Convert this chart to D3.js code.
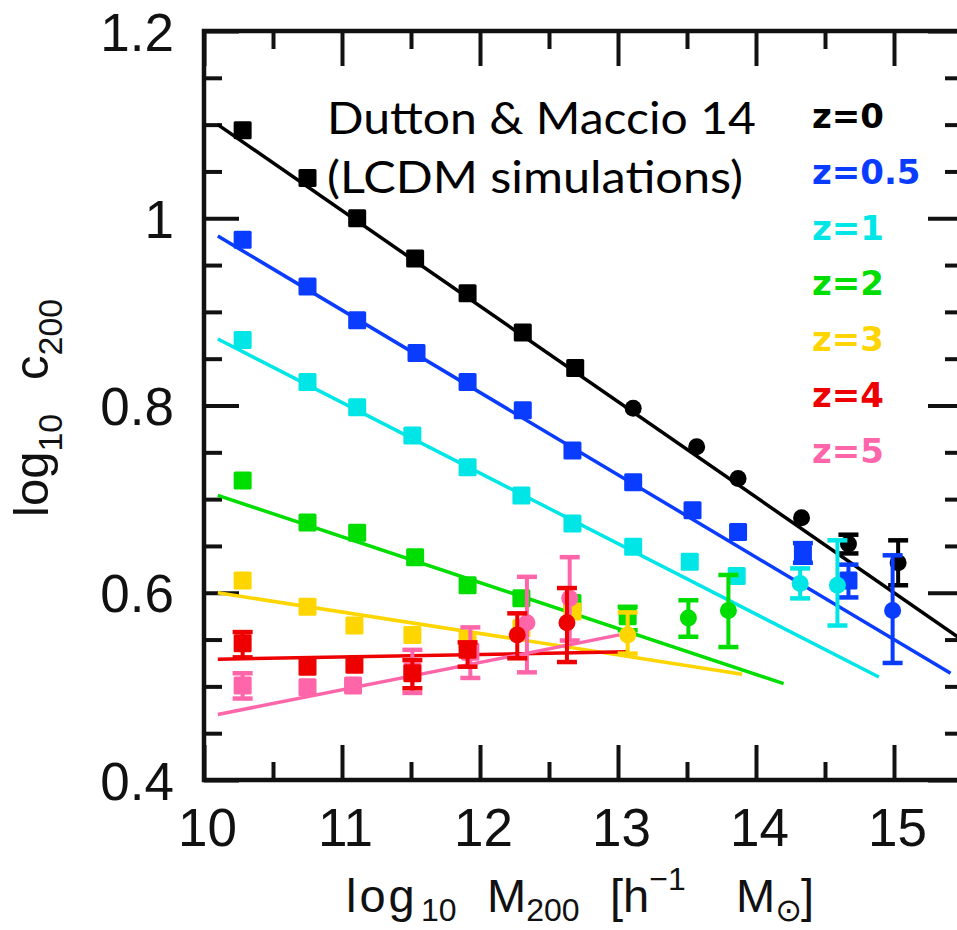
<!DOCTYPE html>
<html>
<head>
<meta charset="utf-8">
<script src="https://cdn.jsdelivr.net/npm/d3@7"></script>
<style>
  html, body { margin: 0; padding: 0; background: #fff; }
  svg { display: block; }
</style>
</head>
<body>
<svg id="chart" width="957" height="930"></svg>
<script>
// ---------------- DATA ----------------
const seriesNames = ["z=0", "z=0.5", "z=1", "z=2", "z=3", "z=4", "z=5"];
const seriesColors = ["#000000", "#0a3cff", "#00e6e6", "#00dd00", "#ffd500", "#ee0000", "#ff66aa"];

// z = 0
const z0_x  = [10.28, 10.75, 11.11, 11.53, 11.91, 12.31, 12.69, 13.11, 13.57, 13.87, 14.33, 14.67, 15.03];
const z0_y  = [1.094, 1.043, 1.000, 0.957, 0.920, 0.878, 0.840, 0.797, 0.756, 0.722, 0.680, 0.652, 0.632];
const z0_lo = [null, null, null, null, null, null, null, null, null, null, null, 0.642, 0.608];
const z0_hi = [null, null, null, null, null, null, null, null, null, null, null, 0.662, 0.656];
const z0_shape = ["s","s","s","s","s","s","s","c","c","c","c","c","c"];

// z = 0.5
const z05_x  = [10.28, 10.75, 11.11, 11.54, 11.91, 12.31, 12.67, 13.11, 13.54, 13.87, 14.34, 14.67, 14.99];
const z05_y  = [0.977, 0.927, 0.891, 0.856, 0.825, 0.795, 0.752, 0.718, 0.688, 0.665, 0.642, 0.613, 0.581];
const z05_lo = [null, null, null, null, null, null, null, null, null, null, 0.632, 0.595, 0.525];
const z05_hi = [null, null, null, null, null, null, null, null, null, null, 0.653, 0.630, 0.640];
const z05_shape = ["s","s","s","s","s","s","s","s","s","s","s","s","c"];

// z = 1
const z1_x  = [10.28, 10.75, 11.11, 11.51, 11.91, 12.30, 12.67, 13.11, 13.52, 13.86, 14.32, 14.59];
const z1_y  = [0.870, 0.825, 0.798, 0.768, 0.734, 0.704, 0.674, 0.649, 0.633, 0.618, 0.610, 0.608];
const z1_lo = [null, null, null, null, null, null, null, null, null, null, 0.594, 0.565];
const z1_hi = [null, null, null, null, null, null, null, null, null, null, 0.626, 0.656];
const z1_shape = ["s","s","s","s","s","s","s","s","s","s","c","c"];

// z = 2
const z2_x  = [10.28, 10.75, 11.11, 11.53, 11.91, 12.30, 12.67, 13.07, 13.51, 13.80];
const z2_y  = [0.720, 0.675, 0.664, 0.638, 0.608, 0.594, 0.589, 0.575, 0.573, 0.581];
const z2_lo = [null, null, null, null, null, null, null, 0.560, 0.553, 0.542];
const z2_hi = [null, null, null, null, null, null, null, 0.585, 0.592, 0.619];
const z2_shape = ["s","s","s","s","s","s","s","s","c","c"];

// z = 3
const z3_x  = [10.28, 10.75, 11.09, 11.51, 11.91, 12.30, 12.67, 13.07];
const z3_y  = [0.613, 0.585, 0.565, 0.555, 0.549, 0.562, 0.580, 0.555];
const z3_lo = [null, null, null, null, null, null, null, 0.535];
const z3_hi = [null, null, null, null, null, null, null, 0.579];
const z3_shape = ["s","s","s","s","s","s","s","c"];

// z = 4
const z4_x  = [10.28, 10.75, 11.09, 11.51, 11.91, 12.27, 12.63];
const z4_y  = [0.546, 0.521, 0.523, 0.514, 0.539, 0.555, 0.568];
const z4_lo = [0.531, null, null, 0.498, 0.521, 0.530, 0.526];
const z4_hi = [0.558, null, null, 0.528, 0.547, 0.578, 0.605];
const z4_shape = ["s","s","s","s","s","c","c"];

// z = 5
const z5_x  = [10.28, 10.75, 11.08, 11.51, 11.93, 12.34, 12.65];
const z5_y  = [0.501, 0.499, 0.501, 0.516, 0.537, 0.568, 0.594];
const z5_lo = [0.487, null, null, 0.493, 0.509, 0.515, 0.549];
const z5_hi = [0.514, null, null, 0.539, 0.563, 0.617, 0.638];
const z5_shape = ["s","s","s","s","s","c","c"];

// fitted relations (start / end points)
const fitX0 = [10.10, 10.10, 10.10, 10.10, 10.10, 10.10, 10.10];
const fitY0 = [1.100, 0.981, 0.871, 0.704, 0.600, 0.529, 0.470];
const fitX1 = [15.50, 15.41, 14.89, 14.20, 13.90, 13.07, 13.01];
const fitY1 = [0.549, 0.514, 0.510, 0.503, 0.513, 0.537, 0.555];

// axes ticks
const xMajor = [10, 11, 12, 13, 14, 15];
const xMinor = [10.5, 11.5, 12.5, 13.5, 14.5, 15.5];
const yMajor = [0.4, 0.6, 0.8, 1.0, 1.2];
const yMinor = [0.45, 0.5, 0.55, 0.65, 0.7, 0.75, 0.85, 0.9, 0.95, 1.05, 1.1, 1.15];
const yTickLabels = ["0.4", "0.6", "0.8", "1", "1.2"];
const xTickLabels = ["10", "11", "12", "13", "14", "15"];

const noteLines = ["Dutton & Maccio 14", "(LCDM simulations)"];

// ---------------- BUILD ----------------
const series = [
  {x: z0_x, y: z0_y, lo: z0_lo, hi: z0_hi, shape: z0_shape},
  {x: z05_x, y: z05_y, lo: z05_lo, hi: z05_hi, shape: z05_shape},
  {x: z1_x, y: z1_y, lo: z1_lo, hi: z1_hi, shape: z1_shape},
  {x: z2_x, y: z2_y, lo: z2_lo, hi: z2_hi, shape: z2_shape},
  {x: z3_x, y: z3_y, lo: z3_lo, hi: z3_hi, shape: z3_shape},
  {x: z4_x, y: z4_y, lo: z4_lo, hi: z4_hi, shape: z4_shape},
  {x: z5_x, y: z5_y, lo: z5_lo, hi: z5_hi, shape: z5_shape}
].map((s, i) => ({
  name: seriesNames[i], color: seriesColors[i],
  pts: s.x.map((xv, j) => ({x: xv, y: s.y[j], lo: s.lo[j], hi: s.hi[j], shape: s.shape[j]})),
  fit: [{x: fitX0[i], y: fitY0[i]}, {x: fitX1[i], y: fitY1[i]}]
}));

const svg = d3.select("#chart");
svg.append("rect").attr("width", 957).attr("height", 930).attr("fill", "#fff");

const L = 204, R = 963, T = 31, B = 780;
const x = d3.scaleLinear().domain([10, 15.5]).range([L, R]);
const y = d3.scaleLinear().domain([0.4, 1.2]).range([B, T]);

const axisFont = "'Liberation Sans', Arial, Helvetica, sans-serif";
const tickColor = "#111";

function styleTicks(g) {
  g.select(".domain").remove();
  g.selectAll(".tick line").attr("stroke", tickColor).attr("stroke-width", 4);
}

// Major / minor ticks on all four sides (pointing inward)
svg.append("g").attr("transform", `translate(0,${B})`)
  .call(d3.axisBottom(x).tickValues(xMajor).tickSize(-35).tickFormat(""))
  .call(styleTicks);
svg.append("g").attr("transform", `translate(0,${B})`)
  .call(d3.axisBottom(x).tickValues(xMinor).tickSize(-18).tickFormat(""))
  .call(styleTicks);
svg.append("g").attr("transform", `translate(0,${T})`)
  .call(d3.axisTop(x).tickValues(xMajor).tickSize(-35).tickFormat(""))
  .call(styleTicks);
svg.append("g").attr("transform", `translate(0,${T})`)
  .call(d3.axisTop(x).tickValues(xMinor).tickSize(-18).tickFormat(""))
  .call(styleTicks);
svg.append("g").attr("transform", `translate(${L},0)`)
  .call(d3.axisLeft(y).tickValues(yMajor).tickSize(-35).tickFormat(""))
  .call(styleTicks);
svg.append("g").attr("transform", `translate(${L},0)`)
  .call(d3.axisLeft(y).tickValues(yMinor).tickSize(-18).tickFormat(""))
  .call(styleTicks);
svg.append("g").attr("transform", `translate(${R},0)`)
  .call(d3.axisRight(y).tickValues(yMajor).tickSize(-35).tickFormat(""))
  .call(styleTicks);
svg.append("g").attr("transform", `translate(${R},0)`)
  .call(d3.axisRight(y).tickValues(yMinor).tickSize(-18).tickFormat(""))
  .call(styleTicks);

// Tick labels
const xLab = svg.append("g").attr("transform", `translate(0,${B})`)
  .call(d3.axisBottom(x).tickValues(xMajor).tickSize(0).tickPadding(28)
        .tickFormat((d, i) => xTickLabels[i]));
xLab.select(".domain").remove();
xLab.selectAll("text").attr("font-family", axisFont).attr("font-size", 53)
  .attr("fill", "#111").attr("dx", 3);

const yLab = svg.append("g").attr("transform", `translate(${L},0)`)
  .call(d3.axisLeft(y).tickValues(yMajor).tickSize(0).tickPadding(30)
        .tickFormat((d, i) => yTickLabels[i]));
yLab.select(".domain").remove();
yLab.selectAll("text").attr("font-family", axisFont).attr("font-size", 53)
  .attr("fill", "#111").attr("dy", "0.36em");

// Fit lines
const line = d3.line().x(d => x(d.x)).y(d => y(d.y));
const gLines = svg.append("g");
series.forEach(s => {
  gLines.append("path").datum(s.fit).attr("d", line)
    .attr("fill", "none").attr("stroke", s.color).attr("stroke-width", 3.5);
});

// Points (draw order)
const order = [0, 1, 2, 3, 4, 6, 5];
const gPts = svg.append("g");
order.forEach(i => {
  const s = series[i];
  const g = gPts.append("g");
  s.pts.forEach(p => {
    if (p.lo !== null && p.hi !== null) {
      g.append("line").attr("x1", x(p.x)).attr("x2", x(p.x))
        .attr("y1", y(p.lo)).attr("y2", y(p.hi))
        .attr("stroke", s.color).attr("stroke-width", 4);
      [p.lo, p.hi].forEach(v => {
        g.append("line").attr("x1", x(p.x) - 10).attr("x2", x(p.x) + 10)
          .attr("y1", y(v)).attr("y2", y(v))
          .attr("stroke", s.color).attr("stroke-width", 4.5);
      });
    }
    if (p.shape === "s") {
      g.append("rect").attr("x", x(p.x) - 9).attr("y", y(p.y) - 9)
        .attr("width", 18).attr("height", 18).attr("rx", 1.5)
        .attr("fill", s.color);
    } else {
      g.append("circle").attr("cx", x(p.x)).attr("cy", y(p.y)).attr("r", 8.5)
        .attr("fill", s.color);
    }
  });
});

// Frame
svg.append("path")
  .attr("d", `M${L},${T}H${R}V${B}H${L}Z`)
  .attr("fill", "none").attr("stroke", tickColor).attr("stroke-width", 4.5);

// Legend
const gLeg = svg.append("g");
series.forEach((s, i) => {
  gLeg.append("text").attr("x", 812).attr("y", 128 + i * 55.8)
    .attr("font-family", "'DejaVu Sans', Verdana, sans-serif")
    .attr("font-weight", "bold").attr("font-size", 34)
    .attr("fill", s.color).text(s.name);
});

// Annotation
const noteFont = "Lato, 'Open Sans', sans-serif";
svg.append("text").attr("x", 327).attr("y", 134)
  .attr("font-family", noteFont).attr("font-size", 44).attr("fill", "#000")
  .attr("textLength", 429).attr("lengthAdjust", "spacingAndGlyphs")
  .text(noteLines[0]);
svg.append("text").attr("x", 327).attr("y", 193)
  .attr("font-family", noteFont).attr("font-size", 44).attr("fill", "#000")
  .attr("textLength", 416).attr("lengthAdjust", "spacingAndGlyphs")
  .text(noteLines[1]);

// X axis title: log10 M200 [h^-1 Msun]
const xt = svg.append("text").attr("y", 912)
  .attr("font-family", axisFont).attr("font-size", 47).attr("fill", "#111");
xt.append("tspan").attr("x", 346).attr("letter-spacing", 3).text("log");
xt.append("tspan").attr("x", 421).attr("font-size", 32).attr("dy", 9).text("10");
xt.append("tspan").attr("x", 487).attr("dy", -9).text("M");
xt.append("tspan").attr("font-size", 32).attr("dy", 9).text("200");
xt.append("tspan").attr("x", 610).attr("dy", -9).text("[h");
xt.append("tspan").attr("font-size", 32).attr("dy", -22).text("−1");
xt.append("tspan").attr("x", 736).attr("dy", 22).text("M");
xt.append("tspan").attr("font-size", 32).attr("dy", 9)
  .attr("font-family", "'DejaVu Sans', sans-serif").text("⊙");
xt.append("tspan").attr("x", 801).attr("dy", -9).text("]");

// Y axis title: log10 c200 (rotated)
const yt = svg.append("text").attr("transform", "rotate(-90)").attr("y", 48)
  .attr("font-family", axisFont).attr("font-size", 49).attr("fill", "#111");
yt.append("tspan").attr("x", -517).text("log");
yt.append("tspan").attr("font-size", 34).attr("dy", 14).text("10");
yt.append("tspan").attr("x", -380).attr("dy", -14).text("c");
yt.append("tspan").attr("font-size", 34).attr("dy", 14).text("200");
</script>
</body>
</html>
